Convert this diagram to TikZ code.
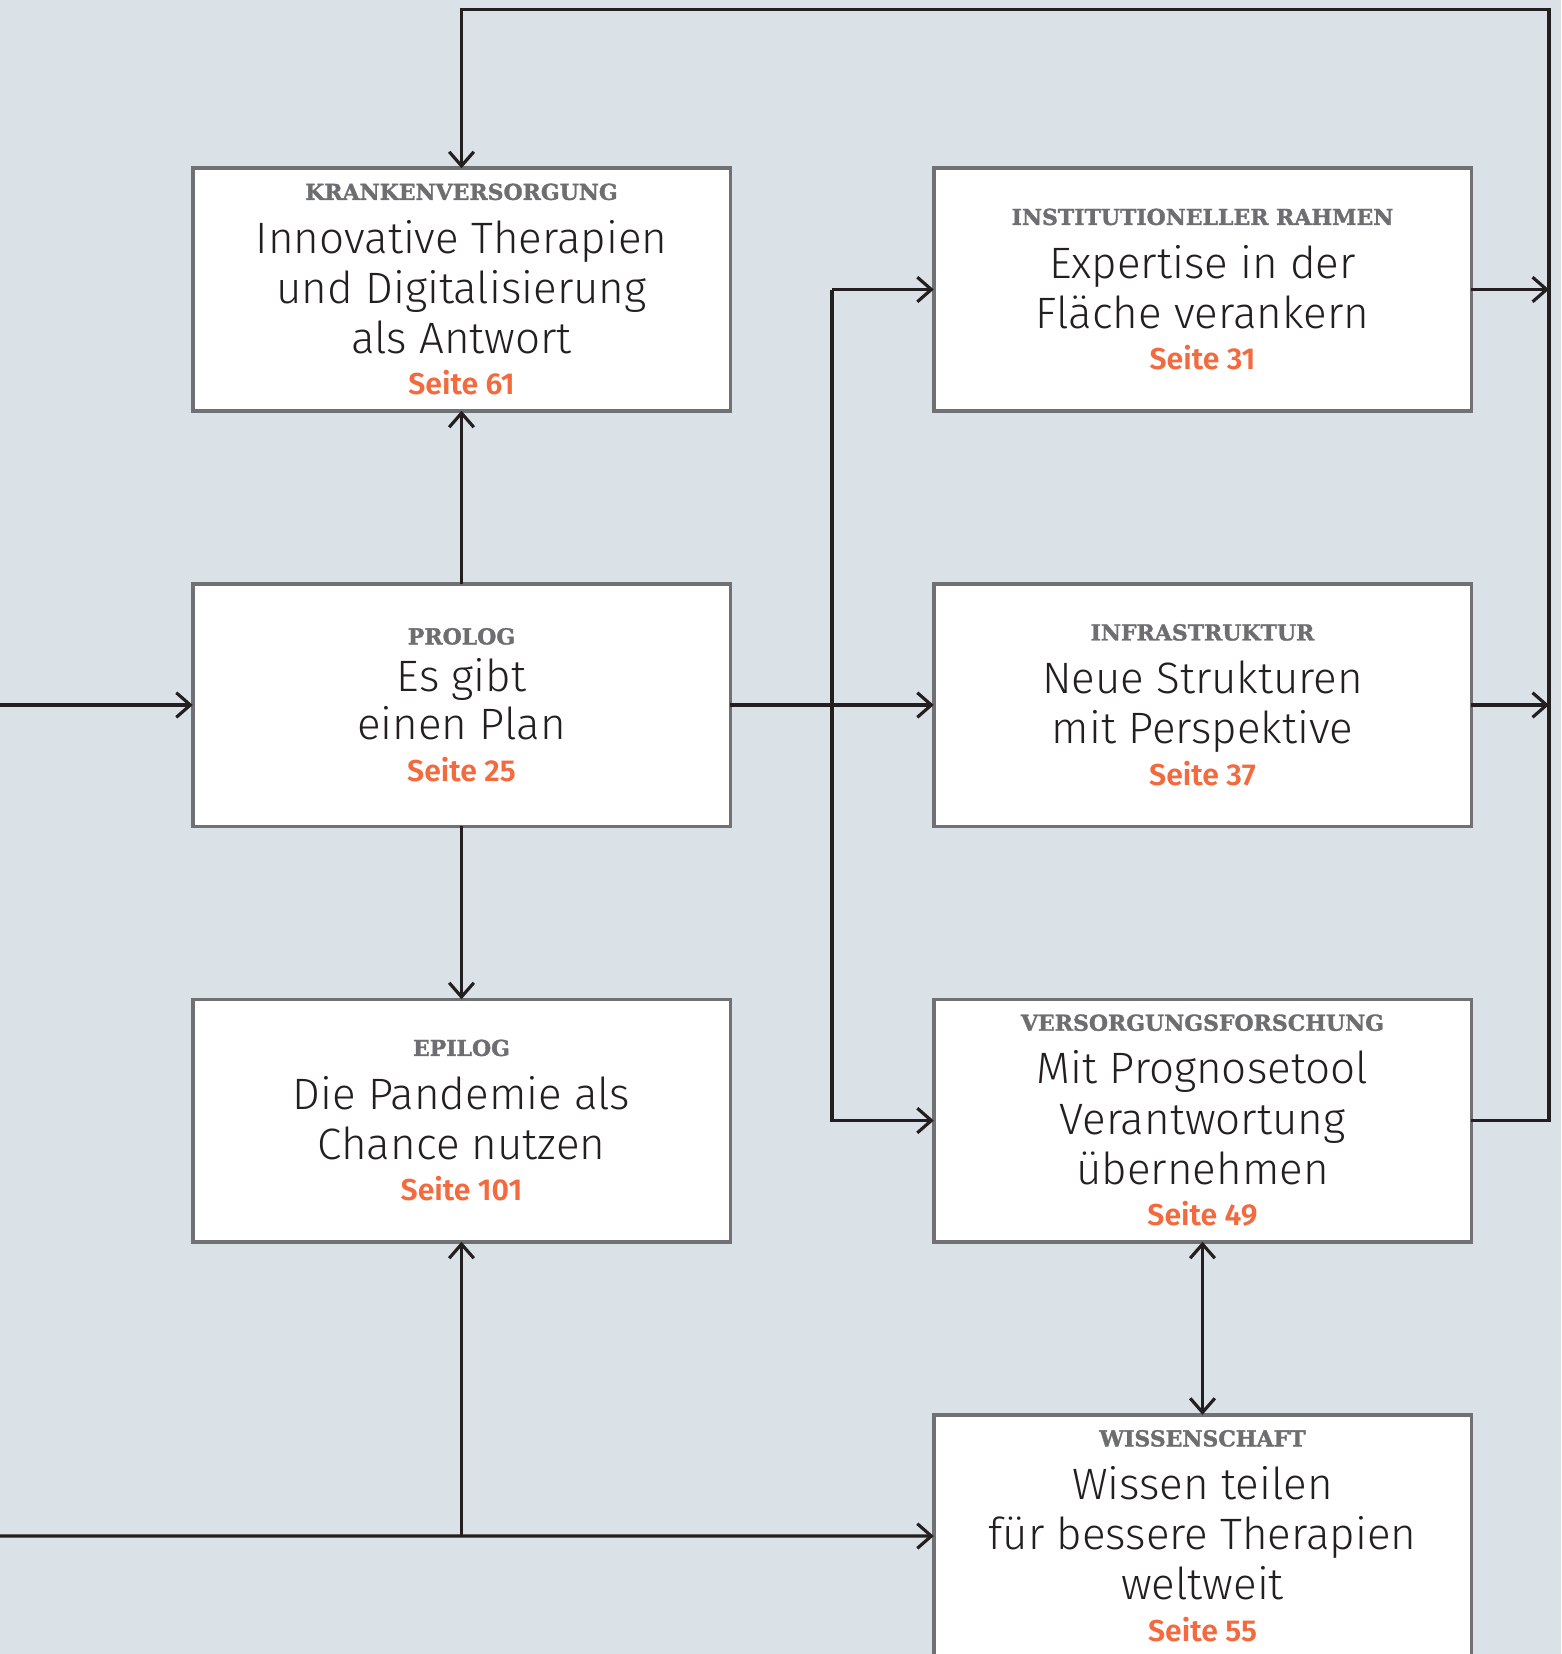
\documentclass[tikz,border=0pt]{standalone}
\usepackage{fontspec}
\setmainfont{Fira Sans}[UprightFont={Fira Sans Light}, BoldFont={Fira Sans SemiBold}]
\newfontfamily\slabfont{DejaVu Serif}[BoldFont={DejaVu Serif Bold}, BoldFeatures={FakeBold=1.5}]
\usepackage{tkz-graph}
\usetikzlibrary{arrows.meta,backgrounds}

\definecolor{bgblue}{HTML}{DAE1E7}
\definecolor{boxgray}{HTML}{707174}
\definecolor{rubrikgray}{HTML}{6D6E71}
\definecolor{seiteorange}{HTML}{F26A3D}
\definecolor{inkblack}{HTML}{231F20}

\newcommand{\rubrik}[1]{{\slabfont\bfseries\fontsize{12.5}{15}\selectfont\color{rubrikgray}#1}}
\newcommand{\seite}[1]{{\bfseries\fontsize{17.2}{18}\selectfont\color{seiteorange}Seite #1}}

\begin{document}
\begin{tikzpicture}[>={Straight Barb[length=8pt,width=14pt]}]
        \fill[bgblue] (0,0) rectangle (31.22,-33.08);
        \useasboundingbox (0,0) rectangle (31.22,-33.08);
        \GraphInit[vstyle=normal]
        \tikzset{VertexStyle/.style={rectangle, draw=boxgray, line width=2pt, fill=white,
                minimum width=10.75cm, minimum height=4.85cm, inner sep=0pt,
                align=center, text=inkblack, font=\fontsize{25}{28.5}\selectfont}}
        \tikzset{EdgeStyle/.style={draw=inkblack, line width=1.8pt}}
        \SetGraphUnit{8.31}
        \Vertex[x=9.23, y=-14.1, L={\rubrik{PROLOG}\\[-1.5pt]Es gibt\\[-1.5pt]einen Plan\\[-4.5pt]\seite{25}}]{pro}
        \NO[L={\rubrik{KRANKENVERSORGUNG}\\[1.8pt]Innovative Therapien\\und Digitalisierung\\als Antwort\\[-4.8pt]\seite{61}}](pro){kra}
        \SO[L={\rubrik{EPILOG}\\[1.8pt]Die Pandemie als\\Chance nutzen\\[-4.8pt]\seite{101}}](pro){epi}
        \EA[unit=14.82, L={\rubrik{INFRASTRUKTUR}\\[1.8pt]Neue Strukturen\\mit Perspektive\\[-4.8pt]\seite{37}}](pro){inf}
        \NO[L={\rubrik{INSTITUTIONELLER RAHMEN}\\[1.8pt]Expertise in der\\Fläche verankern\\[-4.8pt]\seite{31}}](inf){ins}
        \SO[L={\rubrik{VERSORGUNGSFORSCHUNG}\\[1.8pt]Mit Prognosetool\\Verantwortung\\übernehmen\\[-4.8pt]\seite{49}}](inf){vfo}
        \SO[L={\rubrik{WISSENSCHAFT}\\[1.8pt]Wissen teilen\\für bessere Therapien\\weltweit\\[-4.8pt]\seite{55}}](vfo){wis}
        % free ends of the connectors
        \coordinate (inL) at (0,-14.1);
        \coordinate (inB) at (0,-30.72);
        \coordinate (rtop) at (30.98,-0.19);
        \path (pro) -- coordinate (mid) (inf);
        \Edge[style={->}](inL)(pro)
        \Edge[style={->}](pro)(kra)
        \Edge[style={->}](pro)(epi)
        \Edge[style={->}](pro)(inf)
        \Edge[style={<->}](vfo)(wis)
        \Edge[style={->}](inB)(wis)
        \draw[EdgeStyle,->] (inB -| epi) -- (epi);
        \draw[EdgeStyle,->] (mid |- ins) -- (ins);
        \draw[EdgeStyle,->] (mid |- ins) -- (mid |- vfo) -- (vfo);
        \draw[EdgeStyle,->] (ins.east) -- (ins.east -| rtop);
        \draw[EdgeStyle,->] (inf.east) -- (inf.east -| rtop);
        \draw[EdgeStyle,->] (vfo.east) -| (rtop) -| (kra.north);
    \end{tikzpicture}
\end{document}
